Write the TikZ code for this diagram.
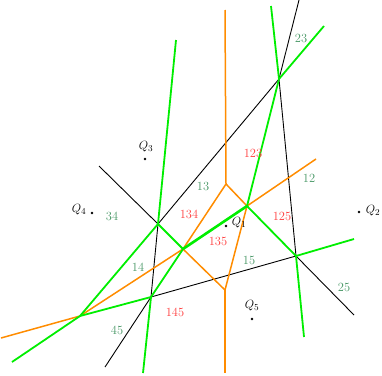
\documentclass[tikz,border=0pt]{standalone}
\definecolor{labgreen}{RGB}{70,150,100}
\definecolor{labred}{RGB}{255,60,60}
\definecolor{vorange}{RGB}{255,140,0}
\definecolor{vgreen}{RGB}{0,238,0}
\begin{document}
\begin{tikzpicture}[x=1pt,y=-1pt,
  blk/.style={black,line width=0.9pt},
  grn/.style={vgreen,line width=1.8pt},
  grnthick/.style={vgreen,line width=2.6pt},
  orn/.style={vorange,line width=1.5pt},
  glab/.style={text=labgreen,font=\fontsize{12.5}{14}\selectfont,inner sep=0pt},
  rlab/.style={text=labred,font=\fontsize{12.5}{14}\selectfont,inner sep=0pt},
  qlab/.style={font=\fontsize{12.5}{14}\selectfont,inner sep=0pt},
  qdot/.style={circle,fill=black,inner sep=0pt,minimum size=2.6pt}]
\useasboundingbox (0,0) rectangle (382,375);
% vertices
\coordinate (A) at (158,224);
\coordinate (B) at (183,249);
\coordinate (C) at (247,206);
\coordinate (D) at (296,256);
\coordinate (E) at (279,79);
\coordinate (F) at (151,297);
\coordinate (G) at (80,316);
\coordinate (H) at (226,184);
\coordinate (I) at (225,290);
% free ends
\coordinate (bk1) at (99,166);
\coordinate (bk2) at (299,0);
\coordinate (bk3) at (354,315);
\coordinate (bk4) at (105,367);
\coordinate (gr1) at (176,40);
\coordinate (gr2) at (271,6);
\coordinate (gr3) at (324,26);
\coordinate (gr4) at (354,239);
\coordinate (gr5) at (304,337);
\coordinate (gr6) at (143,373);
\coordinate (gr7) at (12,362);
\coordinate (or1) at (225,10);
\coordinate (or2) at (316,159);
\coordinate (or3) at (225,373);
\coordinate (or4) at (1,338);
% black
\draw[blk] (bk1) -- (A);
\draw[blk] (A) -- (E);
\draw[blk] (E) -- (bk2);
\draw[blk] (E) -- (D);
\draw[blk] (D) -- (bk3);
\draw[blk] (D) -- (F);
\draw[blk] (A) -- (F);
\draw[blk] (F) -- (bk4);
% orange
\draw[orn] (or1) -- (H);
\draw[orn] (H) -- (C);
\draw[orn] (H) -- (B);
\draw[orn] (C) -- (or2);
\draw[orn] (C) -- (I);
\draw[orn] (B) -- (I);
\draw[orn] (I) -- (or3);
\draw[orn] (B) -- (G);
\draw[orn] (G) -- (or4);
% green
\draw[grn] (gr1) -- (A);
\draw[grn] (A) -- (G);
\draw[grn] (A) -- (B);
\draw[grnthick] (B) -- (C);
\draw[grn] (B) -- (F);
\draw[grn] (C) -- (D);
\draw[grn] (C) -- (E);
\draw[grn] (E) -- (gr2);
\draw[grn] (E) -- (gr3);
\draw[grn] (D) -- (gr4);
\draw[grn] (D) -- (gr5);
\draw[grn] (F) -- (G);
\draw[grn] (F) -- (gr6);
\draw[grn] (G) -- (gr7);
% sites
\node[qdot] (q1) at (226,226) {};
\node[qdot] (q2) at (359,212) {};
\node[qdot] (q3) at (145,159) {};
\node[qdot] (q4) at (92,213) {};
\node[qdot] (q5) at (252,319) {};
\node[qlab] (lq1) at (239,223) {$Q_1$};
\node[qlab] (lq2) at (373,211) {$Q_2$};
\node[qlab] (lq3) at (146,147) {$Q_3$};
\node[qlab] (lq4) at (79,210) {$Q_4$};
\node[qlab] (lq5) at (252,306) {$Q_5$};
% labels
\node[glab] (l23) at (301,38) {23};
\node[glab] (l12) at (309,178) {12};
\node[glab] (l13) at (203,186) {13};
\node[glab] (l34) at (112,216) {34};
\node[glab] (l14) at (138,267) {14};
\node[glab] (l15) at (249,260) {15};
\node[glab] (l25) at (344,287) {25};
\node[glab] (l45) at (117,330) {45};
\node[rlab] (l123) at (253,153) {123};
\node[rlab] (l134) at (189,214) {134};
\node[rlab] (l135) at (218,241) {135};
\node[rlab] (l125) at (282,216) {125};
\node[rlab] (l145) at (175,312) {145};
\end{tikzpicture}
\end{document}
